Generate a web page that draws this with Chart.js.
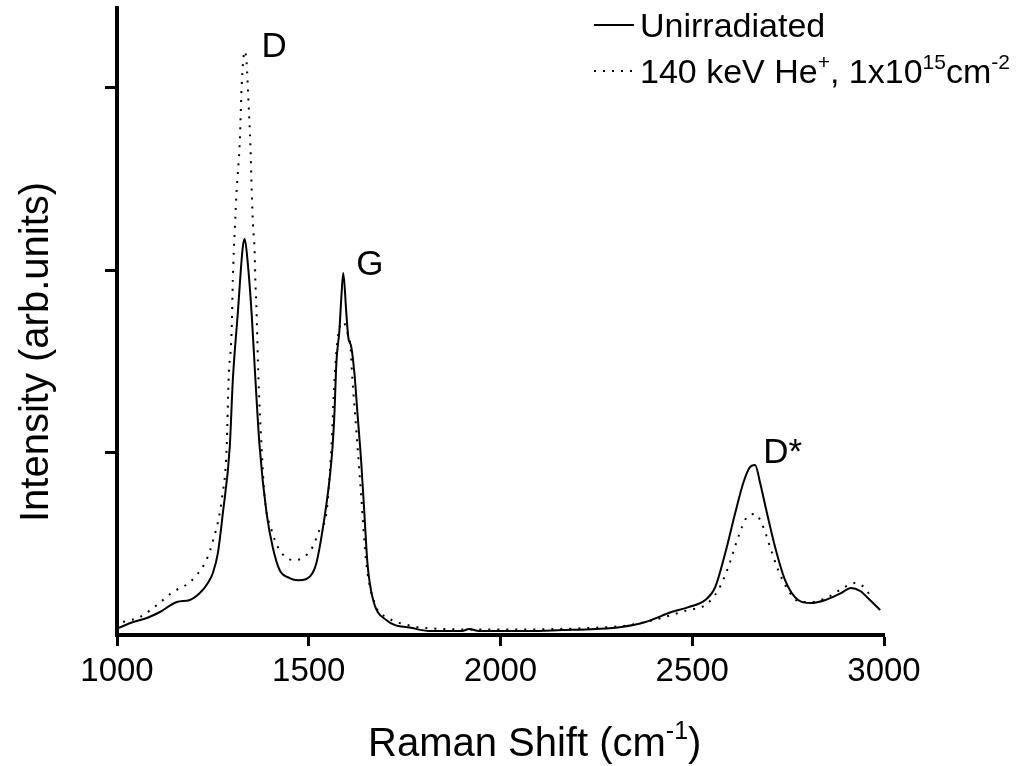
<!DOCTYPE html>
<html>
<head>
<meta charset="utf-8">
<title>Raman spectra</title>
<script src="https://cdn.jsdelivr.net/npm/chart.js@4/dist/chart.umd.min.js"></script>
<style>
  html, body { margin: 0; padding: 0; background: #fff; }
  #wrap { width: 1028px; height: 766px; }
</style>
</head>
<body>
<div id="wrap"><canvas id="raman" width="1028" height="766"></canvas></div>
<script>
// Raman shift (cm-1) and intensity (arb. units) for each spectrum
const pristineShift = [1003, 1042, 1078, 1112, 1156, 1190, 1216, 1237, 1250, 1263, 1276, 1294, 1302, 1315, 1328, 1333,
  1341, 1351, 1361, 1372, 1390, 1406, 1424, 1450, 1472, 1494, 1510, 1520, 1536, 1554, 1562, 1567, 1572, 1580, 1585,
  1590, 1598, 1603, 1611, 1619, 1627, 1637, 1645, 1653, 1666, 1702, 1770, 1814, 1900, 1918, 1944, 2074, 2160, 2248,
  2316, 2378, 2446, 2490, 2534, 2560, 2586, 2612, 2633, 2651, 2664, 2677, 2693, 2716, 2742, 2776, 2810, 2847, 2888,
  2914, 2938, 2958, 2990]
const pristineIntensity = [0.038, 0.071, 0.093, 0.126, 0.181, 0.192, 0.230, 0.285, 0.340, 0.449, 0.668, 1.030, 1.397,
  1.764, 2.126, 2.170, 2.038, 1.764, 1.397, 1.030, 0.668, 0.482, 0.356, 0.312, 0.300, 0.307, 0.340, 0.395, 0.575,
  0.849, 1.030, 1.216, 1.490, 1.671, 1.850, 1.984, 1.764, 1.633, 1.578, 1.436, 1.216, 0.942, 0.668, 0.395, 0.208,
  0.082, 0.038, 0.022, 0.022, 0.033, 0.022, 0.022, 0.027, 0.033, 0.044, 0.071, 0.126, 0.153, 0.192, 0.263, 0.449,
  0.668, 0.833, 0.921, 0.932, 0.833, 0.685, 0.482, 0.301, 0.192, 0.175, 0.192, 0.230, 0.258, 0.241, 0.203, 0.137]

const heShift = [1016, 1060, 1104, 1146, 1190, 1229, 1247, 1273, 1286, 1291, 1299, 1302, 1307, 1312, 1320, 1325, 1333,
  1338, 1343, 1348, 1351, 1354, 1359, 1361, 1364, 1369, 1377, 1385, 1403, 1424, 1458, 1484, 1510, 1528, 1546, 1559,
  1567, 1575, 1585, 1590, 1601, 1608, 1614, 1624, 1637, 1650, 1676, 1702, 1770, 1850, 1950, 2050, 2150, 2250, 2316,
  2378, 2490, 2534, 2568, 2594, 2620, 2641, 2664, 2685, 2703, 2724, 2750, 2781, 2810, 2854, 2898, 2924, 2950, 2966]
const heIntensity = [0.071, 0.099, 0.164, 0.236, 0.290, 0.395, 0.493, 0.740, 1.030, 1.397, 1.671, 1.945, 2.219,
  2.438, 2.696, 3.003, 3.200, 3.134, 2.915, 2.674, 2.455, 2.274, 2.093, 1.929, 1.764, 1.397, 1.030, 0.756, 0.575,
  0.466, 0.411, 0.422, 0.482, 0.575, 0.668, 1.030, 1.397, 1.616, 1.710, 1.715, 1.655, 1.600, 1.397, 1.123, 0.756,
  0.395, 0.153, 0.099, 0.049, 0.033, 0.030, 0.030, 0.033, 0.040, 0.049, 0.071, 0.137, 0.164, 0.247, 0.373, 0.537,
  0.641, 0.663, 0.592, 0.482, 0.356, 0.247, 0.181, 0.181, 0.208, 0.263, 0.285, 0.258, 0.208]

const xTicks = [1000, 1500, 2000, 2500, 3000]
const yTicks = [1, 2, 3]

// band names, anchored at (shift, intensity)
const bandNames = ["D", "G", "D*"]
const bandShift = [1377, 1624, 2685]
const bandIntensity = [3.167, 1.973, 0.942]

const FONT = "'Liberation Sans', Arial, Helvetica, sans-serif"

const toPoints = (xs, ys) => xs.map((x, i) => ({ x, y: ys[i] }))

// text runs like [["cm"], ["-1", true]] where true means superscript
function drawRuns(ctx, runs, x, y, size) {
  let cx = x
  runs.forEach(([text, sup]) => {
    const s = sup ? Math.round(size * 0.62) : size
    ctx.font = `${s}px ${FONT}`
    ctx.fillText(text, cx, sup ? y - size * 0.42 : y)
    cx += ctx.measureText(text).width
  })
  return cx
}

function runsWidth(ctx, runs, size) {
  let w = 0
  runs.forEach(([text, sup]) => {
    ctx.font = `${sup ? Math.round(size * 0.62) : size}px ${FONT}`
    w += ctx.measureText(text).width
  })
  return w
}

const textLayer = {
  id: "textLayer",
  afterDraw(chart) {
    const ctx = chart.ctx
    const xs = chart.scales.x
    const ys = chart.scales.y
    ctx.save()
    ctx.fillStyle = "#000"
    ctx.textBaseline = "alphabetic"
    ctx.textAlign = "left"

    // axis titles
    drawRuns(ctx, [["Raman Shift (cm"], ["-1", true], [")"]], 368, 756, 40)
    ctx.save()
    ctx.translate(48, 352)
    ctx.rotate(-Math.PI / 2)
    const ytitle = [["Intensity (arb.units)"]]
    drawRuns(ctx, ytitle, -runsWidth(ctx, ytitle, 40) / 2, 0, 40)
    ctx.restore()

    // band labels
    bandNames.forEach((name, i) => {
      const px = xs.getPixelForValue(bandShift[i])
      const py = ys.getPixelForValue(bandIntensity[i])
      ctx.font = `35px ${FONT}`
      ctx.fillText(name, px, py)
    })

    // legend
    const entries = [
      [["Unirradiated"]],
      [["140 keV He"], ["+", true], [", 1x10"], ["15", true], ["cm"], ["-2", true]]
    ]
    chart.data.datasets.forEach((ds, i) => {
      const rowY = 37 + i * 46
      ctx.save()
      ctx.strokeStyle = ds.borderColor
      ctx.lineWidth = ds.borderWidth
      ctx.setLineDash(ds.borderDash || [])
      ctx.beginPath()
      ctx.moveTo(594, rowY - 12)
      ctx.lineTo(634, rowY - 12)
      ctx.stroke()
      ctx.restore()
      drawRuns(ctx, entries[i], 640, rowY, 34)
    })
    ctx.restore()
  }
}

new Chart(document.getElementById("raman").getContext("2d"), {
  type: "line",
  data: {
    datasets: [
      {
        label: "Unirradiated",
        data: toPoints(pristineShift, pristineIntensity),
        borderColor: "#000",
        borderWidth: 2,
        pointRadius: 0,
        cubicInterpolationMode: "monotone"
      },
      {
        label: "140 keV He+, 1x10^15 cm-2",
        data: toPoints(heShift, heIntensity),
        borderColor: "#000",
        borderWidth: 2,
        borderDash: [2, 7],
        pointRadius: 0,
        cubicInterpolationMode: "monotone"
      }
    ]
  },
  options: {
    responsive: false,
    animation: false,
    layout: { padding: { top: 8, right: 144, left: 0, bottom: 0 } },
    plugins: {
      legend: { display: false },
      tooltip: { enabled: false }
    },
    scales: {
      x: {
        type: "linear",
        min: 1000,
        max: 3000,
        afterBuildTicks: scale => { scale.ticks = xTicks.map(value => ({ value })) },
        afterFit: scale => { scale.height = 131 },
        border: { display: true, color: "#000", width: 4 },
        grid: { drawOnChartArea: false, drawTicks: true, tickLength: 11, tickWidth: 3, tickColor: "#000" },
        ticks: {
          color: "#000",
          padding: 6,
          font: { family: FONT, size: 33 },
          maxRotation: 0,
          callback: value => String(value)
        }
      },
      y: {
        min: 0,
        max: 3.436,
        afterBuildTicks: scale => { scale.ticks = yTicks.map(value => ({ value })) },
        afterFit: scale => { scale.width = 117 },
        border: { display: true, color: "#000", width: 4 },
        grid: { drawOnChartArea: false, drawTicks: true, tickLength: 12, tickWidth: 3, tickColor: "#000" },
        ticks: { display: false }
      }
    }
  },
  plugins: [textLayer]
})
</script>
</body>
</html>
